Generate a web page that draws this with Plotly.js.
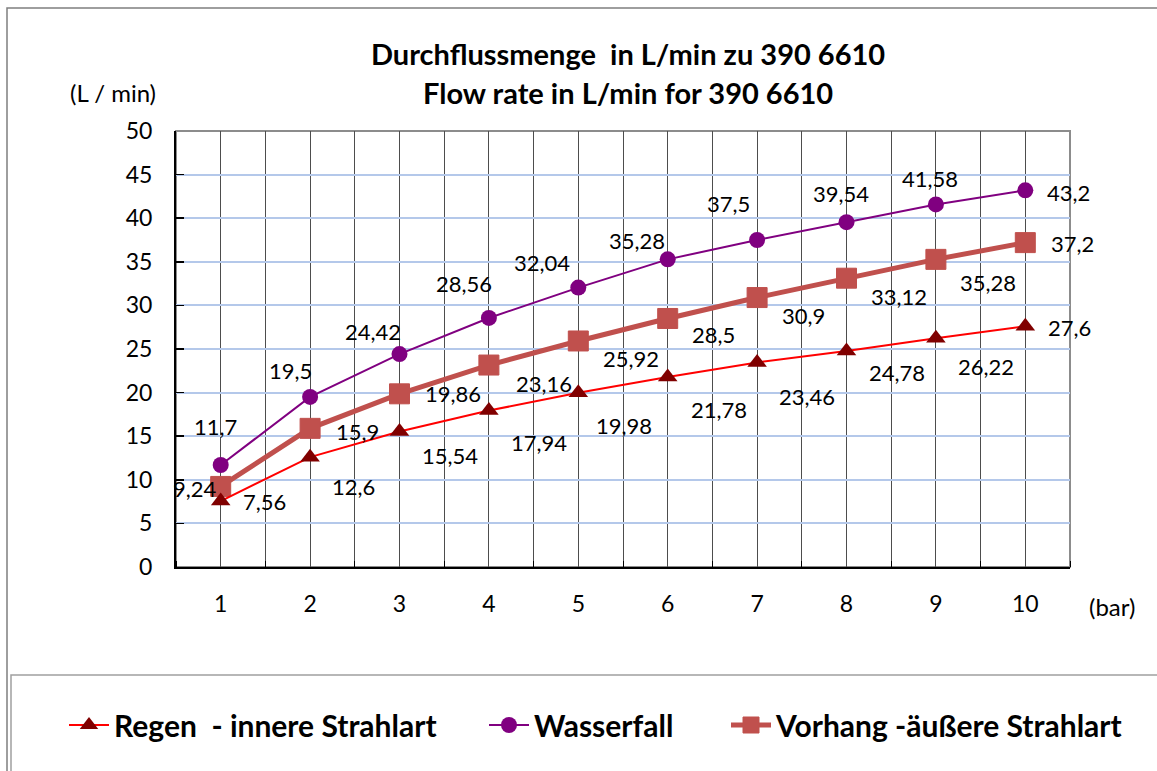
<!DOCTYPE html>
<html>
<head>
<meta charset="utf-8">
<script src="https://cdn.plot.ly/plotly-3.0.1.min.js"></script>
<style>html,body{margin:0;padding:0;background:#fff;}#chart{width:1157px;height:771px;}</style>
</head>
<body>
<div id="chart"></div>
<script>
// ---- data ----
const categories = [1, 2, 3, 4, 5, 6, 7, 8, 9, 10];
const regen = [7.56, 12.6, 15.54, 17.94, 19.98, 21.78, 23.46, 24.78, 26.22, 27.6];
const wasserfall = [11.7, 19.5, 24.42, 28.56, 32.04, 35.28, 37.5, 39.54, 41.58, 43.2];
const vorhang = [9.24, 15.9, 19.86, 23.16, 25.92, 28.5, 30.9, 33.12, 35.28, 37.2];
const seriesNames = ['Regen  - innere Strahlart', 'Wasserfall', 'Vorhang -äußere Strahlart'];
const titleLines = ['Durchflussmenge&nbsp; in L/min zu 390 6610', 'Flow rate in L/min for 390 6610'];
const yUnit = '(L / min)';
const xUnit = '(bar)';

// ---- label offsets (pixels, style only) ----
const rDx = [44, 43, 50, 50, 46, 51, 50, 50, 50, 44];
const rDy = [0, 29, 24, 32, 33, 32, 34, 22, 28, 1];
const wDx = [-5, -20, -27, -25, -36, -31, -29, -6, -6, 43];
const wDy = [-38, -26, -23, -34, -25, -19, -37, -29, -26, 2];
const vDx = [-26, 47, 53, 55, 53, 46, 46, 52, 52, 47];
const vDy = [2, 3, 0, 18, 18, 16, 18, 18, 23, 1];

const FONT = 'Lato, "Open Sans", sans-serif';
const W = 1157, H = 771;
const M = {l: 176, r: 87, t: 131, b: 204};
const pw = W - M.l - M.r, ph = H - M.t - M.b;
const px2x = p => (p - M.l) / pw;
const py2y = p => (H - M.b - p) / ph;

const fmt = v => String(v).replace('.', ',');

const traces = [
  {
    x: categories, y: vorhang, name: seriesNames[2], type: 'scatter', mode: 'lines+markers',
    line: {color: '#c0504d', width: 5},
    marker: {symbol: 'square', size: 20, color: '#c0504d', line: {color: '#c0504d', width: 1}},
    legend: 'legend3'
  },
  {
    x: categories, y: wasserfall, name: seriesNames[1], type: 'scatter', mode: 'lines+markers',
    line: {color: '#800080', width: 2},
    marker: {symbol: 'circle', size: 16, color: '#800080'},
    legend: 'legend2'
  },
  {
    x: categories, y: regen, name: seriesNames[0], type: 'scatter', mode: 'lines+markers',
    line: {color: '#ff0000', width: 2},
    marker: {symbol: 'triangle-up', size: 17, color: '#800000'},
    legend: 'legend'
  }
];

const annotations = [];
function addLabels(vals, dx, dy) {
  vals.forEach((v, i) => {
    annotations.push({
      x: categories[i], y: v, xref: 'x', yref: 'y', text: fmt(v), showarrow: false,
      xshift: dx[i], yshift: -dy[i], font: {family: FONT, size: 22, color: '#000'}
    });
  });
}
addLabels(regen, rDx, rDy);
addLabels(wasserfall, wDx, wDy);
addLabels(vorhang, vDx, vDy);

annotations.push({
  xref: 'paper', yref: 'paper', x: px2x(113), y: py2y(93), text: yUnit, showarrow: false,
  xanchor: 'center', yanchor: 'middle', font: {family: FONT, size: 24, color: '#000'}
});
annotations.push({
  xref: 'paper', yref: 'paper', x: px2x(1112), y: py2y(606), text: xUnit, showarrow: false,
  xanchor: 'center', yanchor: 'middle', font: {family: FONT, size: 24, color: '#000'}
});
const titleY = [53, 93];
titleLines.forEach((t, i) => {
  annotations.push({
    xref: 'paper', yref: 'paper', x: px2x(628), y: py2y(titleY[i]), text: '<b>' + t + '</b>',
    showarrow: false, xanchor: 'center', yanchor: 'middle',
    font: {family: FONT, size: 29, color: '#000'}
  });
});

const shapes = [
  {type: 'rect', xref: 'paper', yref: 'paper', x0: px2x(7), x1: px2x(1165), y0: py2y(780), y1: py2y(8),
   line: {color: '#7f7f7f', width: 1.5}, layer: 'below'},
  {type: 'rect', xref: 'paper', yref: 'paper', x0: px2x(11), x1: px2x(1165), y0: py2y(780), y1: py2y(675),
   line: {color: '#a0a0a0', width: 1.5}, layer: 'below'},
  {type: 'rect', xref: 'paper', yref: 'paper', x0: 0, x1: 1, y0: 0, y1: 1,
   line: {color: '#8c8c8c', width: 2}, layer: 'below'}
];

const legendFont = {family: FONT, size: 30, color: '#000', weight: 'bold'};
function legendAt(px) {
  return {
    orientation: 'h', x: px2x(px), xanchor: 'left', y: py2y(725), yanchor: 'middle',
    font: legendFont, bgcolor: 'rgba(0,0,0,0)', borderwidth: 0, itemwidth: 40
  };
}

const layout = {
  width: W, height: H,
  margin: M,
  paper_bgcolor: '#ffffff', plot_bgcolor: '#ffffff',
  font: {family: FONT, color: '#000'},
  xaxis: {
    range: [0.5, 10.5], tickmode: 'array', tickvals: categories, ticktext: categories.map(String),
    showgrid: true, gridcolor: '#4d4d4d', gridwidth: 1, ticks: '',
    minor: {tick0: 0.5, dtick: 1, showgrid: true, gridcolor: '#4d4d4d', gridwidth: 1, ticks: 'inside', ticklen: 6, tickcolor: '#000'},
    showline: true, linecolor: '#000', linewidth: 2, zeroline: false,
    tickfont: {family: FONT, size: 23, color: '#000'}, ticklabelstandoff: 15, fixedrange: true
  },
  yaxis: {
    range: [0, 50], dtick: 5, tick0: 0,
    showgrid: true, gridcolor: '#b4c8ea', gridwidth: 2,
    showline: true, linecolor: '#000', linewidth: 2, zeroline: false,
    ticks: 'inside', ticklen: 8, tickcolor: '#000', tickwidth: 1.5,
    tickfont: {family: FONT, size: 23, color: '#000'}, ticklabelstandoff: 17, fixedrange: true
  },
  showlegend: true,
  legend: legendAt(64),
  legend2: legendAt(484),
  legend3: legendAt(726),
  annotations: annotations,
  shapes: shapes
};

Plotly.newPlot('chart', traces, layout, {displayModeBar: false, staticPlot: true});
</script>
</body>
</html>
